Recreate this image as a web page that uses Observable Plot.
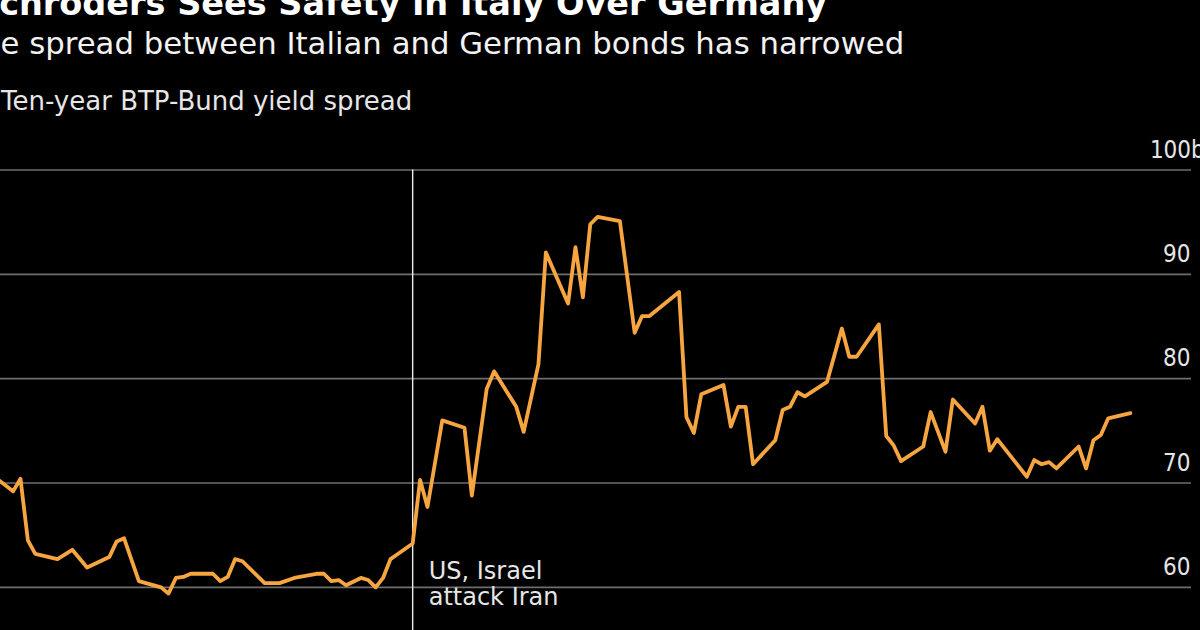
<!DOCTYPE html>
<html>
<head>
<meta charset="utf-8">
<script src="https://cdn.jsdelivr.net/npm/d3@7"></script>
<script src="https://cdn.jsdelivr.net/npm/@observablehq/plot@0.6"></script>
<style>
  html, body { margin: 0; padding: 0; background: #000; overflow: hidden; width: 1200px; height: 630px; }
  body { position: relative; font-family: "DejaVu Sans", sans-serif; }
  .hdr { position: absolute; white-space: nowrap; line-height: 1; }
  #title { left: -25px; top: -13.3px; font-size: 33.5px; font-weight: bold; color: #fff; }
  #subtitle { left: -37.8px; top: 28px; font-size: 30.75px; color: #f2f2f2; }
  #label { left: 1px; top: 88px; font-size: 26px; color: #e6e6e6; }
  #chart { position: absolute; left: 0; top: 120px; }
</style>
</head>
<body>
<div id="title" class="hdr">Schroders Sees Safety In Italy Over Germany</div>
<div id="subtitle" class="hdr">The spread between Italian and German bonds has narrowed</div>
<div id="label" class="hdr">Ten-year BTP-Bund yield spread</div>
<div id="chart"></div>
<script>
// trading-day index and ten-year BTP-Bund spread, bp
const days = [0,2,3,4,5,8,10,12,15,16,
  17,19,22,23,24,25,26,29,30,31,
  32,33,36,38,40,43,44,45,46,47,
  49,50,51,52,53,54,56,57,58,60,
  63,64,66,67,70,71,73,74,77,78,
  79,80,81,84,86,87,88,92,93,94,
  95,98,99,100,101,102,105,106,107,108,
  109,112,114,115,116,119,120,121,122,125,
  126,128,129,132,133,134,135,139,140,141,
  142,143,146,147,148,149,150,153];
const spread = [70.3,69.2,70.4,64.5,63.2,62.7,63.6,61.9,62.9,64.4,
  64.7,60.6,60.0,59.4,60.9,61.0,61.3,61.3,60.6,61.0,
  62.7,62.5,60.4,60.4,60.9,61.3,61.3,60.6,60.7,60.2,
  60.9,60.7,60.0,60.9,62.7,63.2,64.2,70.3,67.7,76.0,
  75.3,68.8,79.0,80.7,77.3,74.9,81.4,92.1,87.2,92.6,
  87.8,94.8,95.5,95.1,84.4,86.0,86.0,88.3,76.3,74.8,
  78.5,79.4,75.4,77.3,77.3,71.8,74.1,77.0,77.3,78.7,
  78.3,79.7,84.8,82.1,82.1,85.2,74.5,73.6,72.1,73.5,
  76.8,73.0,78.0,75.7,77.3,73.1,74.2,70.6,72.2,71.8,
  72.0,71.4,73.5,71.4,74.1,74.6,76.2,76.7];
const yTicks = [60, 70, 80, 90];
const topTick = [100];
const attackDay = [56];
const annotation = ["US, Israel\nattack Iran"];

const data = days.map((d, i) => ({day: d, value: spread[i]}));
const font = "'DejaVu Sans', sans-serif";
const tickFont = "'DejaVu Sans Condensed', 'DejaVu Sans', sans-serif";

const chart = Plot.plot({
  width: 1200,
  height: 519,
  marginTop: 49.5,
  marginBottom: 0,
  marginLeft: 0,
  marginRight: 9,
  style: {background: "#000", color: "#e6e6e6", fontFamily: font, overflow: "visible"},
  x: {domain: [0.3, 161.25], axis: null},
  y: {domain: [55, 100], label: null},
  marks: [
    Plot.gridY([...yTicks, ...topTick], {stroke: "#6e6e6e", strokeOpacity: 1, strokeWidth: 1.6}),
    Plot.axisY(yTicks, {anchor: "right", tickSize: 0, tickPadding: 0, textAnchor: "end", dx: -1, dy: -20,
      fontSize: 24, fill: "#e6e6e6", label: null, fontFamily: tickFont, fontStretch: "condensed"}),
    Plot.axisY(topTick, {anchor: "right", tickSize: 0, tickPadding: 0, textAnchor: "end", dx: 27, dy: -20,
      fontSize: 24, fill: "#e6e6e6", label: null, tickFormat: d => d + "bp", fontFamily: tickFont, fontStretch: "condensed"}),
    Plot.ruleX(attackDay, {stroke: "#ececec", strokeWidth: 1.4}),
    Plot.text(annotation, {x: attackDay, frameAnchor: "bottom", textAnchor: "start", lineAnchor: "bottom",
      dx: 16, dy: -35, fontSize: 24, lineHeight: 1.08, fill: "#e6e6e6"}),
    Plot.line(data, {x: "day", y: "value", stroke: "#f6a540", strokeWidth: 3.8, strokeLinejoin: "round"})
  ]
});
document.getElementById("chart").appendChild(chart);
</script>
</body>
</html>
